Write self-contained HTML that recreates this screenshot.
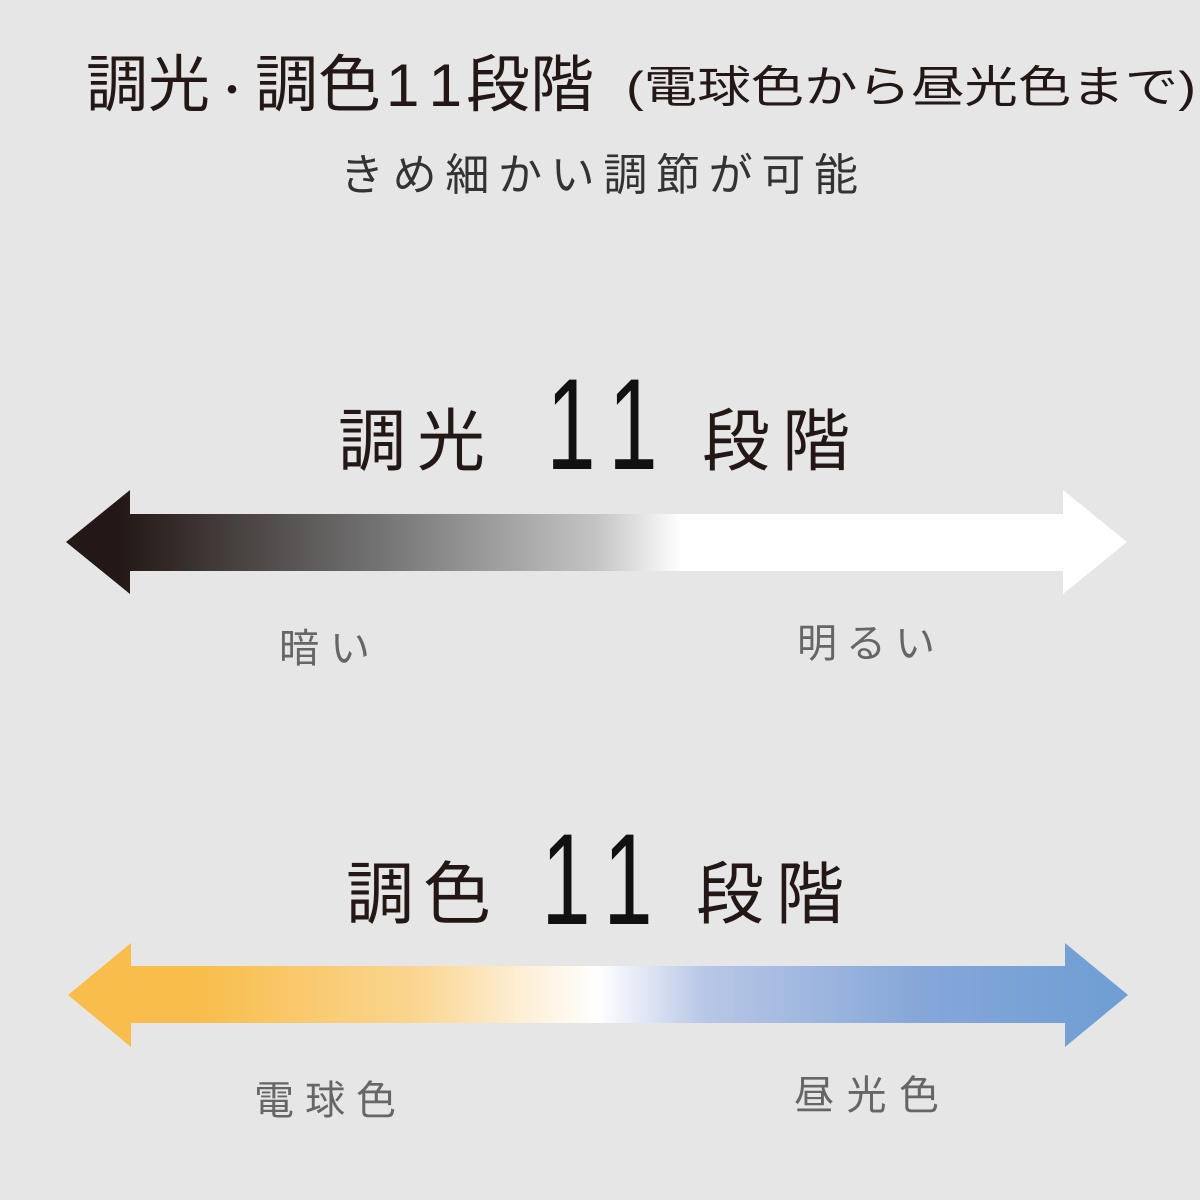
<!DOCTYPE html>
<html><head><meta charset="utf-8"><style>
html,body{margin:0;padding:0;background:#e6e6e6;}
svg{display:block}
</style></head><body>
<svg width="1200" height="1200" viewBox="0 0 1200 1200" xmlns="http://www.w3.org/2000/svg" font-family="'Liberation Sans','Noto Sans CJK JP',sans-serif">
<defs>
<linearGradient id="g1" x1="66" y1="0" x2="1127" y2="0" gradientUnits="userSpaceOnUse">
<stop offset="0.05" stop-color="#231815"/>
<stop offset="0.3" stop-color="#757575"/>
<stop offset="0.5" stop-color="#c4c4c4"/>
<stop offset="0.58" stop-color="#ffffff"/>
<stop offset="1" stop-color="#ffffff"/>
</linearGradient>
<linearGradient id="g2" x1="68" y1="0" x2="1128" y2="0" gradientUnits="userSpaceOnUse">
<stop offset="0.12" stop-color="#f8bd4a"/>
<stop offset="0.33" stop-color="#fad692"/>
<stop offset="0.43" stop-color="#fdefd6"/>
<stop offset="0.5" stop-color="#ffffff"/>
<stop offset="0.6" stop-color="#b8c7e6"/>
<stop offset="0.8" stop-color="#86a7d8"/>
<stop offset="1" stop-color="#6e9ed4"/>
</linearGradient>
</defs>
<rect width="1200" height="1200" fill="#e6e6e6"/>
<g fill="#231815" font-size="62">
<text x="86" y="106" textLength="124" lengthAdjust="spacingAndGlyphs">調光</text>
<text x="232" y="104" text-anchor="middle" font-size="40">・</text>
<text x="255" y="106" textLength="126" lengthAdjust="spacingAndGlyphs">調色</text>
<text x="386" y="106" font-size="60" textLength="76" lengthAdjust="spacing">11</text>
<text x="466" y="106" textLength="128" lengthAdjust="spacingAndGlyphs">段階</text>
</g>
<text x="626" y="102" font-size="44" fill="#231815" textLength="570" lengthAdjust="spacingAndGlyphs">(電球色から昼光色まで)</text>
<text x="340" y="190" font-size="44" fill="#333" textLength="518" lengthAdjust="spacing">きめ細かい調節が可能</text>

<text x="338" y="465" font-size="68" fill="#231815" textLength="147" lengthAdjust="spacing">調光</text>
<g font-size="130" fill="#111" text-anchor="middle">
<text transform="translate(571,469) scale(0.68,1)">1</text><text transform="translate(633,469) scale(0.68,1)">1</text>
</g>
<text x="702" y="465" font-size="68" fill="#231815" textLength="148" lengthAdjust="spacing">段階</text>

<polygon points="66,542 130,490 130,514 1063,514 1063,490 1127,542 1063,594 1063,571 130,571 130,594" fill="url(#g1)"/>
<text x="279" y="662" font-size="40" fill="#666" textLength="91" lengthAdjust="spacing">暗い</text>
<text x="797" y="657" font-size="40" fill="#666" textLength="138" lengthAdjust="spacing">明るい</text>

<text x="346" y="918" font-size="68" fill="#231815" textLength="145" lengthAdjust="spacing">調色</text>
<g font-size="130" fill="#111" text-anchor="middle">
<text transform="translate(566,924) scale(0.68,1)">1</text><text transform="translate(628,924) scale(0.68,1)">1</text>
</g>
<text x="696" y="918" font-size="68" fill="#231815" textLength="148" lengthAdjust="spacing">段階</text>

<polygon points="68,995 131,943 131,966 1065,966 1065,943 1128,995 1065,1047 1065,1023 131,1023 131,1047" fill="url(#g2)"/>
<text x="254" y="1114" font-size="40" fill="#666" textLength="142" lengthAdjust="spacing">電球色</text>
<text x="794" y="1109" font-size="40" fill="#666" textLength="145" lengthAdjust="spacing">昼光色</text>
</svg>
</body></html>
